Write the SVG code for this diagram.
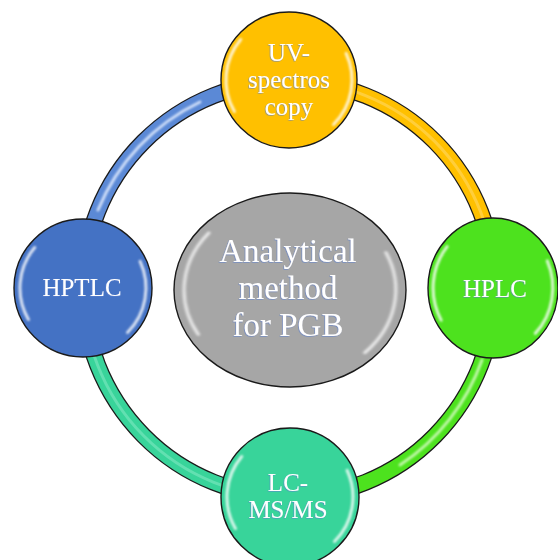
<svg xmlns="http://www.w3.org/2000/svg" width="558" height="560" viewBox="0 0 558 560">
  <style>
    .outline { fill: none; stroke: #1a1a1a; stroke-width: 17; }
    .band { fill: none; stroke-width: 14.5; }
    .hl { fill: none; stroke-width: 3; stroke-linecap: round; }
    .node { stroke: #1a1a1a; stroke-width: 1.4; }
    .gloss { fill: none; stroke: #ffffff; stroke-width: 3; stroke-linecap: round; opacity: 0.8; }
    .lbl { font-family: "Liberation Serif", "Times New Roman", serif; font-size: 25px; fill: #ffffff; text-anchor: middle; }
    .big { font-size: 33px; }
  </style>
  <defs>
    <filter id="soft" x="-20%" y="-20%" width="140%" height="140%">
      <feGaussianBlur stdDeviation="0.9"/>
    </filter>
    <filter id="tshadow" x="-10%" y="-10%" width="120%" height="130%">
      <feDropShadow dx="-0.7" dy="0.7" stdDeviation="0.3" flood-color="#5a7fd0" flood-opacity="0.7"/>
    </filter>
    <g id="gloss" filter="url(#soft)">
      <path class="gloss" vector-effect="non-scaling-stroke" d="M -48.3 -40.5 A 63 63 0 0 0 -54.6 31.5"/>
      <path class="gloss" vector-effect="non-scaling-stroke" d="M 57.1 -26.6 A 63 63 0 0 1 44.5 44.5"/>
    </g>
  </defs>

  <g id="connectors">
    <g id="arc-uv-hplc">
      <path class="outline" d="M 290 81 A 205 207 0 0 1 495 288"/>
      <path class="band" stroke="#FFC000" d="M 290 81 A 205 207 0 0 1 495 288"/>
      <path class="hl" stroke="#FFD454" opacity="0.7" d="M 290 81 A 205 207 0 0 1 495 288"/>
    </g>
    <g id="arc-hplc-lcms">
      <path class="outline" d="M 495 288 A 205 209 0 0 1 290 497"/>
      <path class="band" stroke="#4DE21E" d="M 495 288 A 205 209 0 0 1 290 497"/>
      <path class="hl" stroke="#E8FFD8" opacity="0.75" filter="url(#soft)" d="M 482 360 A 205 209 0 0 1 400 465"/>
    </g>
    <g id="arc-lcms-hptlc">
      <path class="outline" d="M 290 497 A 207 209 0 0 1 83 288"/>
      <path class="band" stroke="#38D49A" d="M 290 497 A 207 209 0 0 1 83 288"/>
      <path class="hl" stroke="#7FE8C2" opacity="0.6" d="M 290 497 A 207 209 0 0 1 83 288"/>
    </g>
    <g id="arc-hptlc-uv">
      <path class="outline" d="M 83 288 A 207 207 0 0 1 290 81"/>
      <path class="band" stroke="#5B89D6" d="M 83 288 A 207 207 0 0 1 290 81"/>
      <path class="hl" stroke="#E4EEFF" opacity="0.85" filter="url(#soft)" d="M 98 210 A 207 207 0 0 1 200 102"/>
    </g>
  </g>

  <g id="node-center">
    <ellipse class="node" cx="290" cy="290" rx="116" ry="97" fill="#A6A6A6"/>
    <use href="#gloss" transform="translate(290 290) scale(1.68 1.41)"/>
    <g filter="url(#tshadow)">
      <text class="lbl big" x="288" y="262">Analytical</text>
      <text class="lbl big" x="288" y="299">method</text>
      <text class="lbl big" x="288" y="336">for PGB</text>
    </g>
  </g>

  <g id="node-uv">
    <circle class="node" cx="289" cy="80" r="68" fill="#FFC000"/>
    <use href="#gloss" transform="translate(289 80)"/>
    <g filter="url(#tshadow)">
      <text class="lbl" x="289" y="61">UV-</text>
      <text class="lbl" x="289" y="88">spectros</text>
      <text class="lbl" x="289" y="115">copy</text>
    </g>
  </g>

  <g id="node-hplc">
    <ellipse class="node" cx="493" cy="288" rx="65" ry="70" fill="#4DE21E"/>
    <use href="#gloss" transform="translate(493 288) scale(0.95 1.02)"/>
    <g filter="url(#tshadow)">
      <text class="lbl" x="495" y="297">HPLC</text>
    </g>
  </g>

  <g id="node-lcms">
    <circle class="node" cx="290" cy="497" r="69" fill="#38D49A"/>
    <use href="#gloss" transform="translate(290 497)"/>
    <g filter="url(#tshadow)">
      <text class="lbl" x="288" y="491">LC-</text>
      <text class="lbl" x="288" y="518">MS/MS</text>
    </g>
  </g>

  <g id="node-hptlc">
    <circle class="node" cx="83" cy="288" r="69" fill="#4472C4"/>
    <use href="#gloss" transform="translate(83 288)"/>
    <g filter="url(#tshadow)">
      <text class="lbl" x="82" y="296">HPTLC</text>
    </g>
  </g>
</svg>
